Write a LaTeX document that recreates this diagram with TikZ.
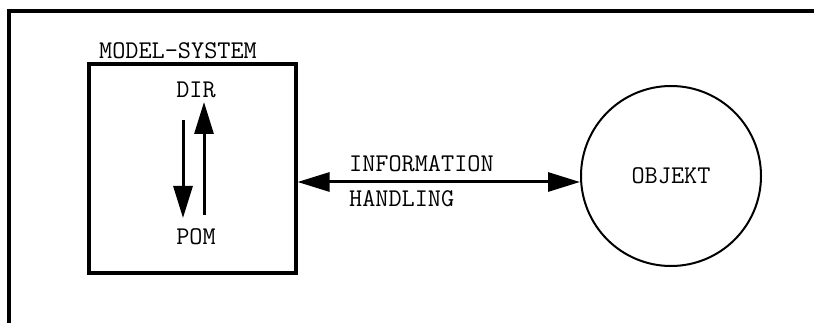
\documentclass[tikz,border=0pt]{standalone}
\usepackage{fontspec}
\usepackage{tikz}
\usetikzlibrary{calc, arrows.meta, positioning}

\begin{document}
\begin{tikzpicture}[
            x=1pt, y=-1pt,
            label text/.style={font=\ttfamily\fontsize{25.5}{30}\selectfont, inner sep=0pt},
            thick line/.style={line width=3.2pt},
            big arrow/.style={line width=3pt, -{Triangle[length=32pt, width=19pt]}},
            both arrow/.style={line width=3pt, {Triangle[length=32pt, width=19pt]}-{Triangle[length=32pt, width=19pt]}}
        ]

            \useasboundingbox (0,0) rectangle (814,323);

            % open frame round the picture
            \draw[thick line] (814,11) -- (9,11) -- (9,323);

            \node[draw, thick line, minimum width=207pt, minimum height=209pt, inner sep=0pt] (model) at (192.5,168.5) {};
            \node[label text, anchor=base west] (modelname) at (99,59) {MODEL-SYSTEM};
            \node[label text] (dir) at (196,90) {DIR};
            \node[label text] (pom) at (196,237) {POM};

            \node[draw, circle, line width=2pt, minimum size=180pt, inner sep=0pt] (objekt) at (671,176) {};
            \node[label text] (objtext) at (objekt.center) {OBJEKT};

            \coordinate (down top) at (183,120);
            \coordinate (down tip) at (183,218);
            \coordinate (up foot) at (204,215);
            \coordinate (up tip) at (204,102);
            \draw[big arrow] (down top) -- (down tip);
            \draw[big arrow] (up foot) -- (up tip);

            \coordinate (link) at (0,182);
            \draw[both arrow] (model.east |- link) -- (objekt.west |- link);
            \node[label text, anchor=west] (info) at (349,164) {INFORMATION};
            \node[label text, anchor=west] (hand) at (349,199) {HANDLING};

        \end{tikzpicture}
\end{document}
